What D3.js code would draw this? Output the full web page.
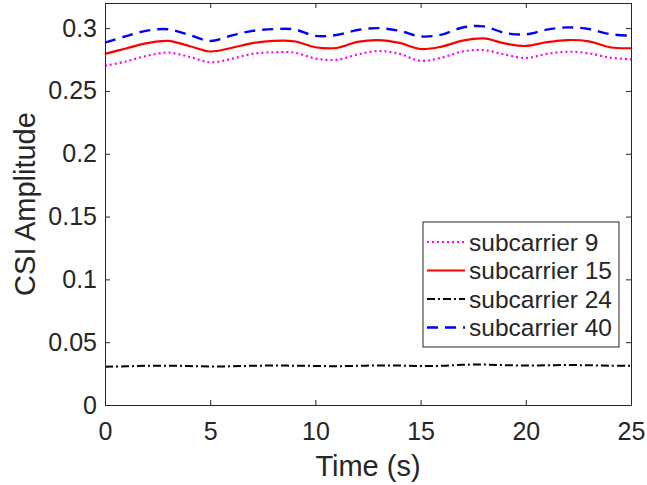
<!DOCTYPE html>
<html>
<head>
<meta charset="utf-8">
<script src="https://cdn.jsdelivr.net/npm/d3@7"></script>
<style>
  body { margin: 0; background: #fff; }
  svg text { font-family: "Liberation Sans", Arial, Helvetica, sans-serif; fill: #262626; }
</style>
</head>
<body>
<div id="chart"></div>
<script>
// time samples (s)
const time = d3.range(0, 26);

// CSI amplitude per subcarrier at 1 s steps
const sub9 = [0.2700, 0.2735, 0.2780, 0.2805, 0.2772, 0.2728, 0.2755, 0.2795, 0.2808, 0.2805,
  0.2758, 0.2748, 0.2790, 0.2818, 0.2795, 0.2740, 0.2765, 0.2815, 0.2825, 0.2790,
  0.2762, 0.2795, 0.2812, 0.2800, 0.2765, 0.2752];
const sub15 = [0.2795, 0.2838, 0.2880, 0.2898, 0.2858, 0.2814, 0.2842, 0.2880, 0.2898, 0.2895,
  0.2848, 0.2842, 0.2890, 0.2905, 0.2882, 0.2834, 0.2853, 0.2900, 0.2918, 0.2878,
  0.2858, 0.2888, 0.2905, 0.2895, 0.2848, 0.2840];
const sub24 = [0.0305, 0.0308, 0.0312, 0.0313, 0.0310, 0.0307, 0.0308, 0.0312, 0.0314, 0.0313,
  0.0311, 0.0309, 0.0312, 0.0315, 0.0314, 0.0310, 0.0312, 0.0320, 0.0322, 0.0317,
  0.0314, 0.0316, 0.0318, 0.0316, 0.0313, 0.0312];
const sub40 = [0.2885, 0.2936, 0.2980, 0.2991, 0.2946, 0.2898, 0.2940, 0.2978, 0.2992, 0.2990,
  0.2938, 0.2945, 0.2985, 0.3000, 0.2978, 0.2934, 0.2948, 0.3005, 0.3014, 0.2962,
  0.2950, 0.2988, 0.3006, 0.2993, 0.2952, 0.2940];

const seriesNames = ["subcarrier 9", "subcarrier 15", "subcarrier 24", "subcarrier 40"];

const xTicks = [0, 5, 10, 15, 20, 25];
const yTicks = [0, 0.05, 0.1, 0.15, 0.2, 0.25, 0.3];
const yTickLabels = ["0", "0.05", "0.1", "0.15", "0.2", "0.25", "0.3"];

// line styles, matching the MATLAB look
const styles = [
  { color: "#ff00ff", dash: "2 3", width: 2.2 },
  { color: "#ff0000", dash: null, width: 2.2 },
  { color: "#000000", dash: "8 3 2 3", width: 2 },
  { color: "#0000ff", dash: "11 7", width: 2.4 }
];

const W = 647, H = 485;
const margin = { top: 3, right: 16, bottom: 80, left: 105 };
const width = W - margin.left - margin.right;
const height = H - margin.top - margin.bottom;

const svg = d3.select("#chart").append("svg")
  .attr("width", W)
  .attr("height", H);

const g = svg.append("g")
  .attr("transform", `translate(${margin.left},${margin.top})`);

const x = d3.scaleLinear().domain([0, 25]).range([0, width]);
const y = d3.scaleLinear().domain([0, 0.32]).range([height, 0]);

// lines
const allSeries = [sub9, sub15, sub24, sub40];
const line = d3.line()
  .x((d, i) => x(time[i]))
  .y(d => y(d))
  .curve(d3.curveCatmullRom.alpha(0.5));

g.append("g").selectAll("path")
  .data(allSeries)
  .join("path")
  .attr("fill", "none")
  .attr("stroke", (d, i) => styles[i].color)
  .attr("stroke-width", (d, i) => styles[i].width)
  .attr("stroke-dasharray", (d, i) => styles[i].dash)
  .attr("d", line);

// axes with inward ticks on all four sides (box on)
const fmtY = d => yTickLabels[yTicks.indexOf(d)];

const xAxis = g.append("g")
  .attr("transform", `translate(0,${height})`)
  .call(d3.axisBottom(x).tickValues(xTicks).tickSizeInner(-5).tickSizeOuter(0).tickPadding(17));
const yAxis = g.append("g")
  .call(d3.axisLeft(y).tickValues(yTicks).tickFormat(fmtY).tickSizeInner(-5).tickSizeOuter(0).tickPadding(8));
const xTop = g.append("g")
  .call(d3.axisTop(x).tickValues(xTicks).tickSizeInner(-5).tickSizeOuter(0).tickFormat(""));
const yRight = g.append("g")
  .attr("transform", `translate(${width},0)`)
  .call(d3.axisRight(y).tickValues(yTicks).tickSizeInner(-5).tickSizeOuter(0).tickFormat(""));

[xAxis, yAxis, xTop, yRight].forEach(a => {
  a.select(".domain").attr("stroke", "#262626").attr("stroke-width", 1);
  a.selectAll(".tick line").attr("stroke", "#262626");
  a.selectAll("text").style("font-size", "25px").attr("fill", "#262626");
});

// axis labels
svg.append("text")
  .attr("x", margin.left + width / 2)
  .attr("y", 476)
  .attr("text-anchor", "middle")
  .style("font-size", "29px")
  .text("Time (s)");

svg.append("text")
  .attr("transform", `translate(35,${margin.top + height / 2}) rotate(-90)`)
  .attr("text-anchor", "middle")
  .style("font-size", "29px")
  .text("CSI Amplitude");

// legend
const legend = svg.append("g")
  .attr("transform", "translate(423,222)");

legend.append("rect")
  .attr("width", 196)
  .attr("height", 125)
  .attr("fill", "#fff")
  .attr("stroke", "#262626")
  .attr("stroke-width", 1);

const rows = legend.selectAll("g.row")
  .data(seriesNames)
  .join("g")
  .attr("class", "row")
  .attr("transform", (d, i) => `translate(0,${20 + i * 28.5})`);

rows.append("line")
  .attr("x1", 4).attr("x2", 42)
  .attr("stroke", (d, i) => styles[i].color)
  .attr("stroke-width", (d, i) => styles[i].width)
  .attr("stroke-dasharray", (d, i) => styles[i].dash);

rows.append("text")
  .attr("x", 46)
  .attr("dy", "0.35em")
  .style("font-size", "24.5px")
  .text(d => d);
</script>
</body>
</html>
